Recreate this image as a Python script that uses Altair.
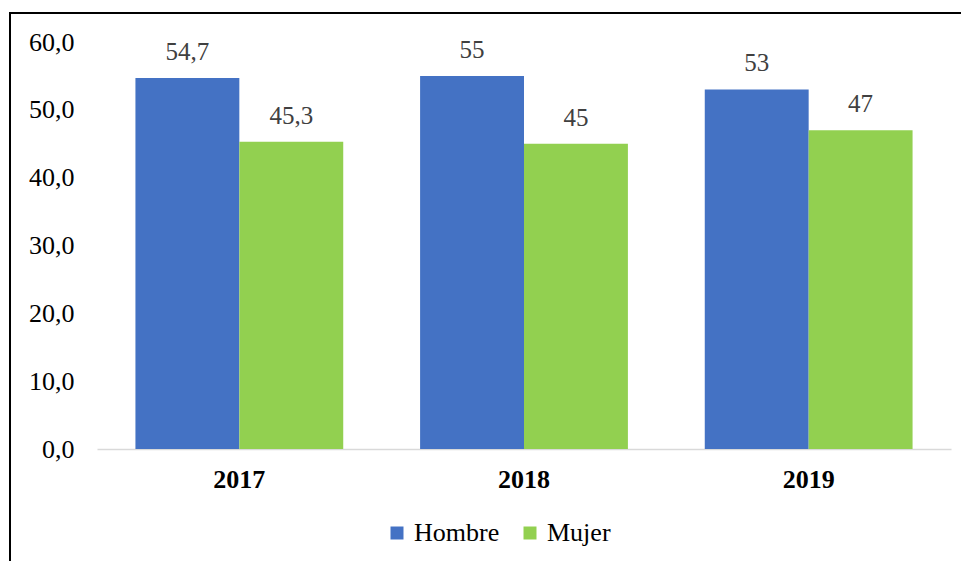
import altair as alt
import pandas as pd

years = ["2017", "2018", "2019"]
hombre = [54.7, 55, 53]
mujer = [45.3, 45, 47]
hombre_labels = ["54,7", "55", "53"]
mujer_labels = ["45,3", "45", "47"]
series = ["Hombre", "Mujer"]
colors = ["#4472C4", "#92D050"]
y_ticks = [0, 10, 20, 30, 40, 50, 60]

rows = []
for i, yr in enumerate(years):
    rows.append({"year": yr, "sexo": "Hombre", "valor": hombre[i], "etiqueta": hombre_labels[i]})
    rows.append({"year": yr, "sexo": "Mujer", "valor": mujer[i], "etiqueta": mujer_labels[i]})
df = pd.DataFrame(rows)

FONT = "Liberation Serif"

x_enc = alt.X(
    "year:N",
    sort=years,
    title=None,
    scale=alt.Scale(paddingInner=0.27, paddingOuter=0.135),
    axis=alt.Axis(
        labelAngle=0,
        labelFont=FONT,
        labelFontSize=26,
        labelFontWeight="bold",
        labelColor="#000000",
        labelPadding=17,
        ticks=False,
        domainColor="#d9d9d9",
        domainWidth=1.5,
        grid=False,
    ),
)
xoff = alt.XOffset("sexo:N", sort=series, scale=alt.Scale(paddingInner=0, paddingOuter=0))
y_enc = alt.Y(
    "valor:Q",
    title=None,
    scale=alt.Scale(domain=[0, 60], nice=False),
    axis=alt.Axis(
        values=y_ticks,
        labelExpr="replace(format(datum.value, '.1f'), '.', ',')",
        labelFont=FONT,
        labelFontSize=26,
        labelColor="#000000",
        labelPadding=23,
        ticks=False,
        domain=False,
        grid=False,
    ),
)

bars = alt.Chart(df).mark_bar().encode(
    x=x_enc,
    xOffset=xoff,
    y=y_enc,
    color=alt.Color(
        "sexo:N",
        sort=series,
        scale=alt.Scale(domain=series, range=colors),
        legend=alt.Legend(
            title=None,
            orient="none",
            direction="horizontal",
            legendX=287,
            legendY=478,
            symbolType="square",
            symbolSize=169,
            symbolStrokeWidth=0,
            labelFont=FONT,
            labelFontSize=26,
            labelColor="#000000",
            labelOffset=4,
            columnPadding=17,
        ),
    ),
)

text = alt.Chart(df).mark_text(
    font=FONT, fontSize=25, color="#404040", baseline="alphabetic", dy=-18
).encode(
    x=alt.X("year:N", sort=years),
    xOffset=xoff,
    y=alt.Y("valor:Q"),
    text="etiqueta:N",
)

border_df = pd.DataFrame({"k": [1]})
left_border = alt.Chart(border_df).mark_rule(color="#000000", strokeWidth=2).encode(
    x=alt.value(-87), y=alt.value(-29), y2=alt.value(560)
)
top_border = alt.Chart(border_df).mark_rule(color="#000000", strokeWidth=2).encode(
    x=alt.value(-88), x2=alt.value(900), y=alt.value(-29)
)

chart = alt.layer(bars, text, left_border, top_border).properties(
    width=854,
    height=407,
    padding={"left": 89, "top": 34, "right": 10, "bottom": 112},
    autosize=alt.AutoSizeParams(type="none"),
    background="#ffffff",
).configure_view(stroke=None)

chart.save("out.html", embed_options={"renderer": "svg", "actions": False})
